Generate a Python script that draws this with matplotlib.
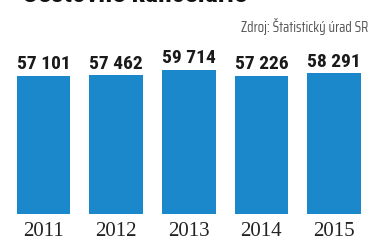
import matplotlib
matplotlib.use("Agg")
import matplotlib.pyplot as plt

years = ["2011", "2012", "2013", "2014", "2015"]
values = [57101, 57462, 59714, 57226, 58291]
value_labels = ["57 101", "57 462", "59 714", "57 226", "58 291"]
title = "Cestovné kancelárie"
source = "Zdroj: Štatistický úrad SR"

W, H = 372, 241
fig = plt.figure(figsize=(W / 100, H / 100), dpi=100)
fig.patch.set_facecolor("white")

left = 7.2 / W
right = 370.3 / W
bottom = (H - 214) / H
ax = fig.add_axes([left, bottom, right - left, 1 - bottom])
x = list(range(len(years)))
ax.bar(x, values, width=0.74, color="#1b88cc")
ax.set_xlim(-0.5, 4.5)
ax.set_ylim(0, 88600)
for s in ax.spines.values():
    s.set_visible(False)
ax.set_yticks([])
ax.set_xticks(x)
ax.set_xticklabels(years, family=["Liberation Serif", "DejaVu Serif"], fontsize=15,
                   color="#222222")
ax.tick_params(axis="x", length=0, pad=6)

for xi, v, lab in zip(x, values, value_labels):
    ax.annotate(lab, (xi, v), xytext=(0, 4.8), textcoords="offset points",
                ha="center", va="baseline", fontsize=14, fontweight="bold",
                family=["Roboto Condensed", "DejaVu Sans"], color="#1a1a1a")

fig.text(22 / W, 1 - 2 / H, title, ha="left", va="baseline", fontsize=20,
         fontweight="bold", family=["Roboto Condensed", "DejaVu Sans"], color="#111111")
fig.text(368 / W, 1 - 32 / H, source, ha="right", va="baseline", fontsize=10.5,
         family=["Saira Condensed", "DejaVu Sans"], color="#555555")

fig.savefig("out.png", dpi=100, facecolor="white")
